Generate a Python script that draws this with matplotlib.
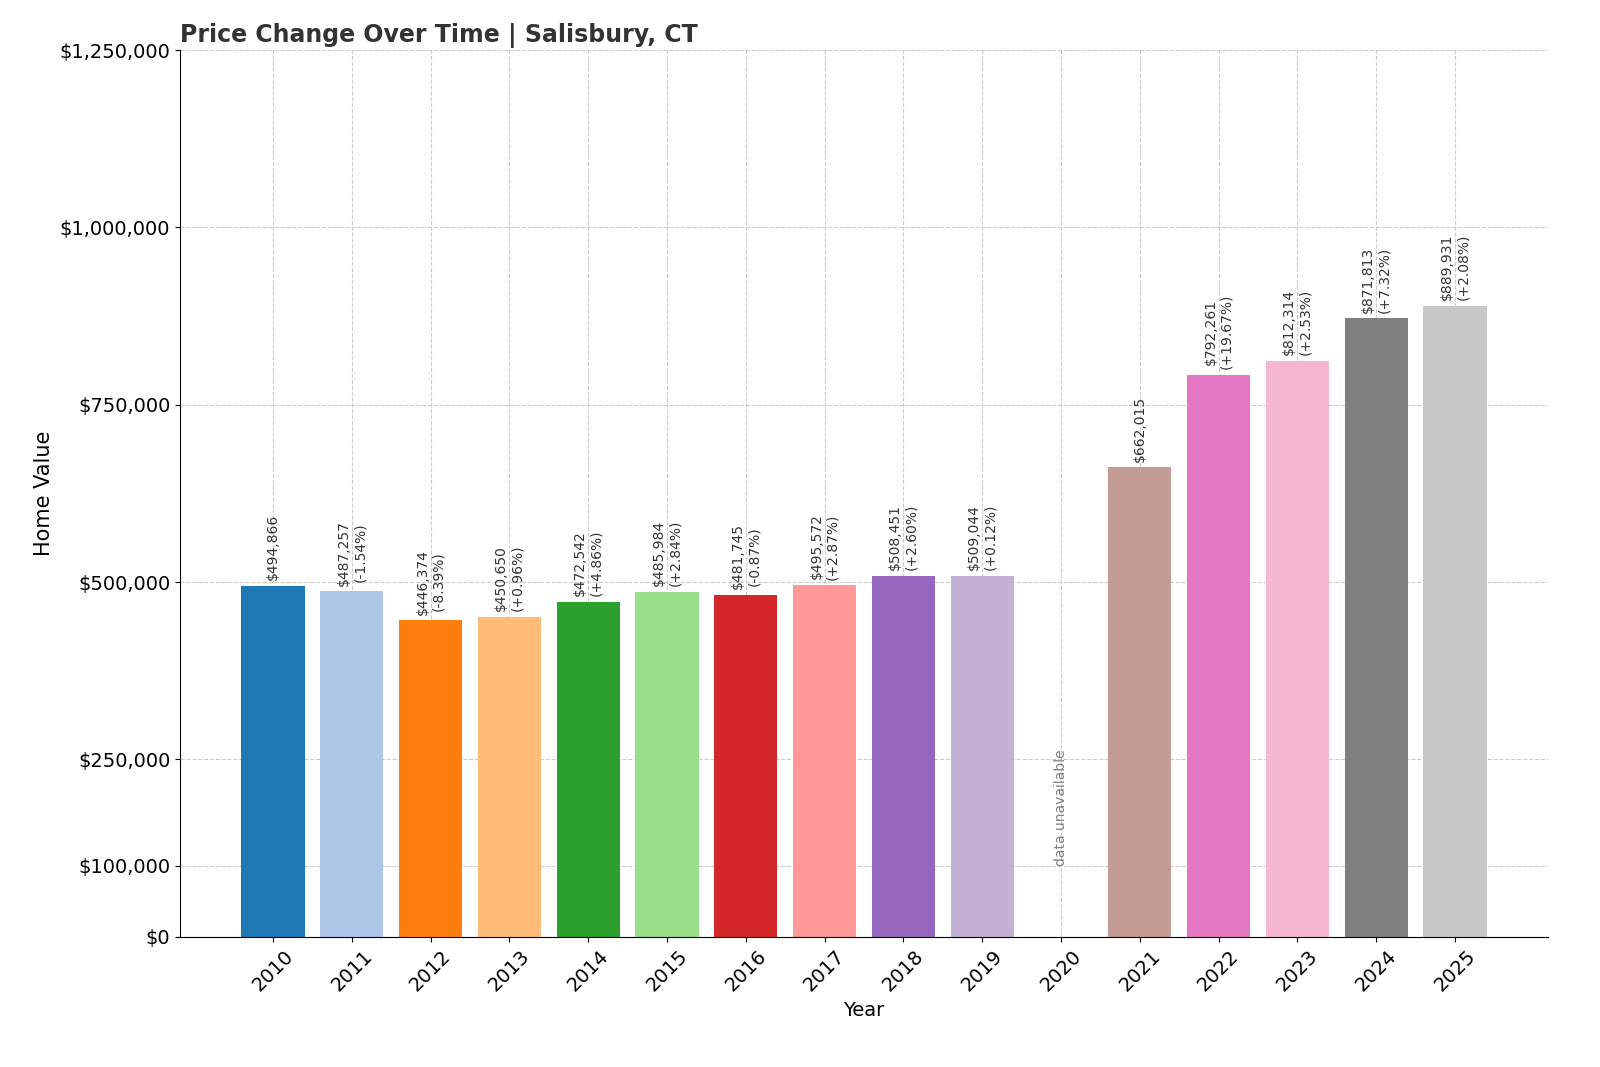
import matplotlib.pyplot as plt
import numpy as np

years = [str(y) for y in range(2010, 2026)]
values = [494866, 487257, 446374, 450650, 472542, 485984, 481745, 495572,
          508451, 509044, None, 662015, 792261, 812314, 871813, 889931]
changes = [None, "-1.54%", "-8.39%", "+0.96%", "+4.86%", "+2.84%", "-0.87%", "+2.87%",
           "+2.60%", "+0.12%", None, None, "+19.67%", "+2.53%", "+7.32%", "+2.08%"]
yticks = [0, 100000, 250000, 500000, 750000, 1000000, 1250000]

colors = plt.cm.tab20(np.arange(16) % 20)

fig = plt.figure(figsize=(16, 10.67), dpi=100)
ax = fig.add_axes([0.1125, 0.122, 0.855, 0.831])
x = np.arange(len(years))
for i, v in enumerate(values):
    if v is None:
        ax.text(x[i], 100000, "data unavailable", rotation=90, ha="center", va="bottom",
                fontsize=10, color="gray")
        continue
    ax.bar(x[i], v, width=0.8, color=colors[i], zorder=2)
    label = f"${v:,}" if changes[i] is None else f"${v:,}\n({changes[i]})"
    ax.text(x[i], v + 8000, label, rotation=90, ha="center", va="bottom",
            fontsize=10, color="#333333")

ax.set_xticks(x)
ax.set_xticklabels(years, rotation=45, fontsize=14)
ax.set_yticks(yticks)
ax.set_yticklabels([f"${t:,}" for t in yticks], fontsize=14)
ax.set_ylim(0, 1250000)
ax.set_xlim(-1.18, 16.18)
ax.grid(True, linestyle="--", color="#cccccc", zorder=0)
ax.set_axisbelow(True)
ax.spines["top"].set_visible(False)
ax.spines["right"].set_visible(False)
ax.set_xlabel("Year", fontsize=14)
ax.set_ylabel("Home Value", fontsize=15)
ax.set_title("Price Change Over Time | Salisbury, CT", loc="left", fontsize=17,
             fontweight="bold", color="#333333")
fig.savefig("out.png")
